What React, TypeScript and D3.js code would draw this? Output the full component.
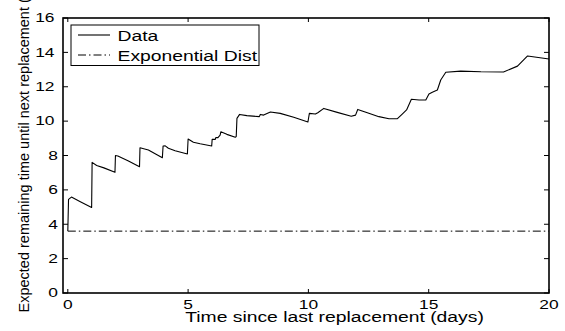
import * as d3 from "d3"

// measured data curve: time since replacement (days) vs expected remaining time
const dataT = [
  0, 0.03, 0.15, 0.5, 0.99, 1.01, 1.2, 1.5, 1.96, 1.98, 2.08, 2.5, 2.98, 3.0, 3.35, 3.93, 3.96, 4.05,
  4.18, 4.46, 4.97, 5.0, 5.22, 5.5, 5.98, 6.0, 6.13, 6.15, 6.24, 6.33, 6.36, 6.61, 6.96, 7.0, 7.03,
  7.14, 7.44, 7.96, 8.0, 8.14, 8.35, 8.42, 8.83, 9.39, 9.98, 10.04, 10.29, 10.39, 10.64, 11.2, 11.78,
  11.96, 12.05, 12.45, 12.93, 13.35, 13.7, 13.9, 14.08, 14.28, 14.6, 14.88, 15.01, 15.15, 15.36, 15.5,
  15.71, 16.33, 17.17, 18.11, 18.69, 19.11, 20.0,
]
const dataV = [
  3.6, 5.45, 5.58, 5.33, 4.98, 7.6, 7.42, 7.28, 7.02, 8.0, 7.97, 7.7, 7.35, 8.45, 8.32, 7.87, 8.55, 8.56,
  8.42, 8.28, 8.09, 8.96, 8.77, 8.68, 8.55, 8.94, 8.94, 9.04, 9.04, 9.19, 9.38, 9.23, 9.06, 9.1, 10.16,
  10.39, 10.32, 10.26, 10.39, 10.35, 10.49, 10.53, 10.45, 10.22, 9.95, 10.45, 10.41, 10.49, 10.74, 10.51,
  10.28, 10.35, 10.68, 10.49, 10.26, 10.14, 10.14, 10.41, 10.65, 11.27, 11.23, 11.23, 11.58, 11.68, 11.81,
  12.39, 12.84, 12.91, 12.87, 12.86, 13.2, 13.79, 13.61,
]

// exponential distribution: constant expected remaining time
const expT = [0, 20]
const expV = [3.6, 3.6]

const xTicks = [0, 5, 10, 15, 20]
const yTicks = [0, 2, 4, 6, 8, 10, 12, 14, 16]

const xLabel = "Time since last replacement (days)"
const yLabel = "Expected remaining time until next replacement (days)"
const legendNames = ["Data", "Exponential Dist"]

const W = 565
const H = 331
const box = { left: 63, right: 549, top: 18, bottom: 293 }
const SX = 1.45 // text in the picture is stretched sideways
const FONT = "'Liberation Sans', Arial, Helvetica, sans-serif"
const DASHDOT = "8,3,1.5,3"

export default function App() {
  const x = d3.scaleLinear().domain([-0.2, 20]).range([box.left, box.right])
  const y = d3.scaleLinear().domain([0, 16]).range([box.bottom, box.top])

  const line = d3
    .line<[number, number]>()
    .x((d) => x(d[0]))
    .y((d) => y(d[1]))

  const dataPts = dataT.map((t, i) => [t, dataV[i]] as [number, number])
  const expPts = expT.map((t, i) => [t, expV[i]] as [number, number])

  const tick = 4

  return (
    <div style={{ position: "absolute", left: 0, top: 0 }}>
      <svg width={W} height={H} style={{ display: "block", background: "#fff" }} fontFamily={FONT}>
        <rect x={0} y={0} width={W} height={H} fill="#fff" />

        {/* curves */}
        <path d={line(expPts) || ""} fill="none" stroke="#000" strokeWidth={1} strokeDasharray={DASHDOT} />
        <path d={line(dataPts) || ""} fill="none" stroke="#000" strokeWidth={1.1} strokeLinejoin="round" />

        {/* ticks */}
        {xTicks.map((t) => (
          <g key={"xt" + t}>
            <line x1={x(t)} x2={x(t)} y1={box.bottom} y2={box.bottom - tick} stroke="#000" strokeWidth={1} />
            <line x1={x(t)} x2={x(t)} y1={box.top} y2={box.top + tick} stroke="#000" strokeWidth={1} />
            <text
              transform={`translate(${x(t)},308.5) scale(${SX},1)`}
              textAnchor="middle"
              fontSize={12}
              fill="#000"
            >
              {t}
            </text>
          </g>
        ))}
        {yTicks.map((v) => (
          <g key={"yt" + v}>
            <line x1={box.left} x2={box.left + tick + 1} y1={y(v)} y2={y(v)} stroke="#000" strokeWidth={1} />
            <line x1={box.right} x2={box.right - tick - 1} y1={y(v)} y2={y(v)} stroke="#000" strokeWidth={1} />
            <text
              transform={`translate(${58 - (String(v).length - 1) * 3.5},${y(v) + 4.3}) scale(${SX},1)`}
              textAnchor="end"
              fontSize={12}
              fill="#000"
            >
              {v}
            </text>
          </g>
        ))}

        {/* axes box */}
        <rect
          x={box.left}
          y={box.top}
          width={box.right - box.left}
          height={box.bottom - box.top}
          fill="none"
          stroke="#000"
          strokeWidth={1.6}
        />

        {/* axis labels */}
        <text transform={`translate(334.5,321.5) scale(1.38,1)`} textAnchor="middle" fontSize={14} fill="#000">
          {xLabel}
        </text>
        <text transform="translate(28.5,312.5) rotate(-90)" textAnchor="start" fontSize={14.5} fill="#000">
          {yLabel}
        </text>

        {/* legend */}
        <g>
          <rect x={71} y={25} width={188} height={40.5} fill="#fff" stroke="#000" strokeWidth={1} />
          <line x1={78} x2={110} y1={35} y2={35} stroke="#000" strokeWidth={1.1} />
          <line x1={78} x2={110} y1={55} y2={55} stroke="#000" strokeWidth={1} strokeDasharray={DASHDOT} />
          <text transform="translate(117.5,40.5) scale(1.38,1)" fontSize={14} fill="#000">
            {legendNames[0]}
          </text>
          <text transform="translate(117.5,60.5) scale(1.38,1)" fontSize={14} fill="#000">
            {legendNames[1]}
          </text>
        </g>
      </svg>
    </div>
  )
}
